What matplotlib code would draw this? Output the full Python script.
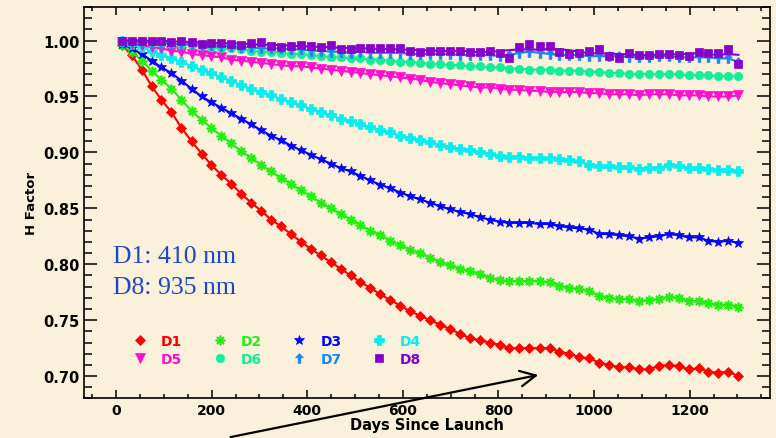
import numpy as np
import pandas as pd
import matplotlib
matplotlib.use('Agg')
import matplotlib.pyplot as plt
from matplotlib.lines import Line2D
from matplotlib.path import Path
import matplotlib.ticker as mticker


### Sampling days since launch
days = [12, 33, 54, 75, 95, 116, 137, 158, 179, 199,
        220, 241, 262, 283, 303, 324, 345, 366, 387, 407,
        428, 449, 470, 491, 511, 532, 553, 574, 595, 615,
        636, 657, 678, 699, 719, 740, 761, 782, 803, 823,
        844, 865, 886, 907, 927, 948, 969, 990, 1011, 1031,
        1052, 1073, 1094, 1115, 1135, 1156, 1177, 1198, 1219, 1239,
        1260, 1281, 1302]

### H factor per detector
d1 = [0.996, 0.987, 0.974, 0.959, 0.947, 0.936, 0.922, 0.910, 0.899, 0.889,
      0.880, 0.872, 0.863, 0.855, 0.848, 0.840, 0.834, 0.827, 0.820, 0.814,
      0.808, 0.802, 0.796, 0.790, 0.784, 0.779, 0.773, 0.768, 0.763, 0.758,
      0.754, 0.750, 0.746, 0.742, 0.738, 0.734, 0.732, 0.730, 0.728, 0.725,
      0.725, 0.725, 0.725, 0.725, 0.722, 0.720, 0.717, 0.716, 0.712, 0.710,
      0.708, 0.708, 0.706, 0.706, 0.709, 0.710, 0.709, 0.706, 0.707, 0.704,
      0.703, 0.704, 0.700]
d2 = [0.996, 0.990, 0.982, 0.973, 0.965, 0.957, 0.947, 0.937, 0.929, 0.922,
      0.915, 0.908, 0.901, 0.895, 0.889, 0.883, 0.877, 0.872, 0.866, 0.861,
      0.855, 0.850, 0.845, 0.840, 0.835, 0.830, 0.826, 0.821, 0.817, 0.813,
      0.810, 0.806, 0.802, 0.799, 0.796, 0.794, 0.791, 0.788, 0.786, 0.785,
      0.785, 0.785, 0.785, 0.784, 0.781, 0.779, 0.778, 0.776, 0.772, 0.770,
      0.769, 0.769, 0.767, 0.768, 0.769, 0.771, 0.770, 0.767, 0.767, 0.765,
      0.764, 0.764, 0.762]
d3 = [0.997, 0.993, 0.988, 0.982, 0.976, 0.971, 0.964, 0.957, 0.950, 0.945,
      0.940, 0.935, 0.930, 0.925, 0.920, 0.915, 0.911, 0.906, 0.902, 0.898,
      0.894, 0.890, 0.886, 0.883, 0.879, 0.875, 0.871, 0.868, 0.864, 0.861,
      0.858, 0.855, 0.852, 0.849, 0.847, 0.845, 0.842, 0.840, 0.838, 0.837,
      0.837, 0.837, 0.836, 0.836, 0.834, 0.833, 0.832, 0.831, 0.827, 0.827,
      0.826, 0.825, 0.823, 0.824, 0.825, 0.827, 0.826, 0.824, 0.824, 0.821,
      0.820, 0.821, 0.819]
d4 = [1.000, 0.997, 0.994, 0.991, 0.987, 0.984, 0.981, 0.977, 0.974, 0.971,
      0.967, 0.964, 0.960, 0.957, 0.954, 0.951, 0.948, 0.945, 0.942, 0.939,
      0.936, 0.933, 0.930, 0.928, 0.925, 0.923, 0.920, 0.918, 0.915, 0.913,
      0.911, 0.909, 0.907, 0.905, 0.903, 0.902, 0.900, 0.899, 0.897, 0.896,
      0.896, 0.895, 0.895, 0.895, 0.894, 0.893, 0.892, 0.889, 0.888, 0.888,
      0.887, 0.887, 0.885, 0.886, 0.886, 0.889, 0.888, 0.886, 0.886, 0.885,
      0.884, 0.884, 0.883]
d5 = [0.999, 0.997, 0.996, 0.994, 0.993, 0.991, 0.990, 0.988, 0.987, 0.986,
      0.985, 0.983, 0.982, 0.981, 0.980, 0.979, 0.978, 0.977, 0.977, 0.976,
      0.975, 0.974, 0.973, 0.972, 0.971, 0.970, 0.969, 0.968, 0.967, 0.966,
      0.965, 0.963, 0.962, 0.961, 0.960, 0.959, 0.958, 0.958, 0.957, 0.956,
      0.956, 0.955, 0.955, 0.954, 0.954, 0.954, 0.954, 0.953, 0.953, 0.952,
      0.952, 0.952, 0.951, 0.952, 0.952, 0.952, 0.951, 0.951, 0.951, 0.950,
      0.950, 0.950, 0.951]
d6 = [1.000, 0.999, 0.999, 0.998, 0.998, 0.997, 0.996, 0.996, 0.995, 0.994,
      0.993, 0.993, 0.992, 0.991, 0.990, 0.990, 0.989, 0.988, 0.988, 0.987,
      0.986, 0.985, 0.985, 0.984, 0.984, 0.983, 0.983, 0.982, 0.981, 0.981,
      0.980, 0.979, 0.979, 0.978, 0.978, 0.977, 0.977, 0.976, 0.976, 0.975,
      0.975, 0.974, 0.974, 0.974, 0.973, 0.973, 0.973, 0.972, 0.972, 0.971,
      0.971, 0.970, 0.970, 0.970, 0.970, 0.970, 0.970, 0.969, 0.969, 0.969,
      0.968, 0.968, 0.968]
d7 = [1.000, 0.999, 0.999, 0.998, 0.998, 0.997, 0.997, 0.997, 0.996, 0.996,
      0.995, 0.995, 0.994, 0.994, 0.993, 0.993, 0.993, 0.992, 0.992, 0.991,
      0.991, 0.990, 0.990, 0.989, 0.990, 0.989, 0.989, 0.989, 0.989, 0.988,
      0.988, 0.988, 0.988, 0.988, 0.987, 0.987, 0.987, 0.987, 0.986, 0.987,
      0.989, 0.990, 0.989, 0.988, 0.987, 0.987, 0.987, 0.986, 0.986, 0.986,
      0.986, 0.985, 0.985, 0.985, 0.986, 0.986, 0.985, 0.985, 0.985, 0.985,
      0.984, 0.984, 0.981]
d8 = [1.000, 1.000, 1.000, 1.000, 1.000, 0.999, 1.000, 0.999, 0.997, 0.998,
      0.998, 0.997, 0.996, 0.998, 0.999, 0.995, 0.994, 0.995, 0.996, 0.995,
      0.994, 0.996, 0.992, 0.992, 0.993, 0.993, 0.993, 0.993, 0.993, 0.991,
      0.990, 0.991, 0.991, 0.991, 0.991, 0.990, 0.990, 0.991, 0.989, 0.984,
      0.994, 0.997, 0.995, 0.995, 0.990, 0.988, 0.989, 0.991, 0.992, 0.986,
      0.984, 0.989, 0.987, 0.987, 0.988, 0.988, 0.987, 0.986, 0.990, 0.989,
      0.989, 0.992, 0.979]

labels = ['D1', 'D2', 'D3', 'D4', 'D5', 'D6', 'D7', 'D8']
series = [d1, d2, d3, d4, d5, d6, d7, d8]


### Colors and markers
bg = '#fbf0da'
colors = ['#ff0000', '#22ee11', '#0000ff', '#00f0f0',
          '#ff10d0', '#11ee99', '#1a85f0', '#8800cc']

# up-arrow marker for D7
arrow_mk = Path([(0, 1), (0.8, 0.15), (0.28, 0.15), (0.28, -1),
                 (-0.28, -1), (-0.28, 0.15), (-0.8, 0.15), (0, 1)], closed=True)

markers = ['D', (8, 2, 0), '*', 'P', 'v', 'o', arrow_mk, 's']
msizes = [5.0, 7, 7.5, 6.5, 6.5, 6, 7, 6]


### Figure and axes
fig = plt.figure(figsize=(7.76, 4.39), dpi=100, facecolor=bg)
ax = fig.add_axes([0.1082, 0.0900, 0.8840, 0.8918])
ax.set_facecolor(bg)


### Plot each detector
for j, (lab, vals) in enumerate(zip(labels, series)):
    mew = 1.2 if lab == 'D2' else 0.5
    if lab == 'D8':
        # smooth trend line under the noisy D8 points
        trend = pd.Series(vals).rolling(7, center=True, min_periods=1).mean()
        ax.plot(days, trend, color=colors[j], lw=1.5, zorder=3 + j)
        ax.plot(days, vals, ls='none', marker=markers[j], ms=msizes[j],
                color=colors[j], mec=colors[j], mew=mew, zorder=3 + j)
    else:
        ax.plot(days, vals, color=colors[j], lw=1.5, marker=markers[j],
                ms=msizes[j], mec=colors[j], mew=mew, zorder=3 + j)


### Axis limits and ticks
ax.set_xlim(-67, 1368)
ax.set_ylim(0.68, 1.03)
ax.xaxis.set_major_locator(mticker.MultipleLocator(200))
ax.xaxis.set_minor_locator(mticker.MultipleLocator(50))
ax.yaxis.set_major_locator(mticker.MultipleLocator(0.05))
ax.yaxis.set_minor_locator(mticker.MultipleLocator(0.01))
ax.yaxis.set_major_formatter(mticker.FormatStrFormatter('%.2f'))

ax.tick_params(axis='both', which='both', direction='in', top=True, right=True,
               color='black', width=1.1)
ax.tick_params(axis='x', which='major', length=6, pad=3, labelsize=10)
ax.tick_params(axis='x', which='minor', length=3)
ax.tick_params(axis='y', which='major', length=9.5, pad=3, labelsize=10.5)
ax.tick_params(axis='y', which='minor', length=5.5)
for t in ax.get_xticklabels() + ax.get_yticklabels():
    t.set_fontweight('bold')

for s in ax.spines.values():
    s.set_linewidth(1.2)

ax.set_xlabel('Days Since Launch', fontsize=10.5, fontweight='bold', labelpad=0)
ax.set_ylabel('H Factor', fontsize=9.5, fontweight='bold', labelpad=4)


### Wavelength note
ax.text(0.0423, 0.349, 'D1: 410 nm', transform=ax.transAxes, family='Liberation Serif',
        fontsize=18.5, color='#1c47c9', va='baseline', ha='left')
ax.text(0.0423, 0.270, 'D8: 935 nm', transform=ax.transAxes, family='Liberation Serif',
        fontsize=18.5, color='#1c47c9', va='baseline', ha='left')


### Legend: markers only, two rows of four
order = [0, 4, 1, 5, 2, 6, 3, 7]
handles = [Line2D([], [], ls='none', marker=markers[k], ms=msizes[k],
                  color=colors[k], mec=colors[k], mew=1.2 if k == 1 else 0.5)
           for k in order]
leg = ax.legend(handles, [labels[k] for k in order], ncol=4, loc='upper left',
                bbox_to_anchor=(0.072, 0.164), frameon=False, handlelength=1.0,
                handletextpad=1.0, columnspacing=2.2, labelspacing=0.27,
                borderpad=0, borderaxespad=0, prop=dict(weight='bold', size=10))
for txt, k in zip(leg.get_texts(), order):
    txt.set_color(colors[k])


### Arrow pointing at the flattening of D1
ax.annotate('', xy=(889, 0.7015), xytext=(234, 0.645), xycoords='data',
            annotation_clip=False,
            arrowprops=dict(arrowstyle='->', color='black', lw=1.6, mutation_scale=28))


plt.savefig('out.png', dpi=100, facecolor=bg)
plt.close(fig)
